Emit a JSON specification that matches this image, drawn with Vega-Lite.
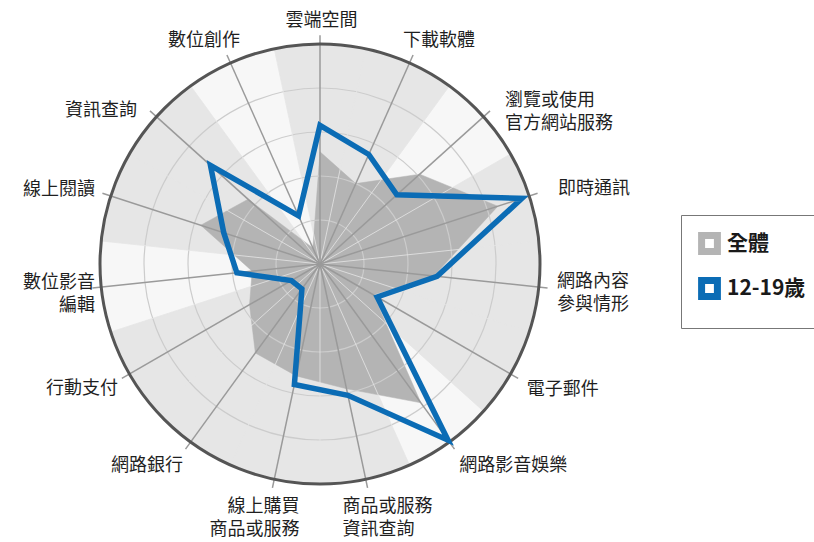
{
  "$schema": "https://vega.github.io/schema/vega-lite/v6.json",
  "width": 814,
  "height": 542,
  "autosize": {"type": "none"},
  "padding": 0,
  "background": "white",
  "config": {"font": "Noto Sans CJK TC", "view": {"stroke": null}},
  "datasets": {
    "radar": [
      {"cat": "雲端空間", "series": "全體", "value": 51},
      {"cat": "下載軟體", "series": "全體", "value": 40},
      {"cat": "瀏覽或使用\n官方網站服務", "series": "全體", "value": 61},
      {"cat": "即時通訊", "series": "全體", "value": 85},
      {"cat": "網路內容\n參與情形", "series": "全體", "value": 52},
      {"cat": "電子郵件", "series": "全體", "value": 28},
      {"cat": "網路影音娛樂", "series": "全體", "value": 78},
      {"cat": "商品或服務\n資訊查詢", "series": "全體", "value": 58},
      {"cat": "線上購買\n商品或服務", "series": "全體", "value": 52},
      {"cat": "網路銀行", "series": "全體", "value": 50},
      {"cat": "行動支付", "series": "全體", "value": 37},
      {"cat": "數位影音\n編輯", "series": "全體", "value": 31},
      {"cat": "線上閱讀", "series": "全體", "value": 57},
      {"cat": "資訊查詢", "series": "全體", "value": 44},
      {"cat": "數位創作", "series": "全體", "value": 8},
      {"cat": "雲端空間", "series": "12-19歲", "value": 63},
      {"cat": "下載軟體", "series": "12-19歲", "value": 54.5},
      {"cat": "瀏覽或使用\n官方網站服務", "series": "12-19歲", "value": 47},
      {"cat": "即時通訊", "series": "12-19歲", "value": 96.5},
      {"cat": "網路內容\n參與情形", "series": "12-19歲", "value": 53.5},
      {"cat": "電子郵件", "series": "12-19歲", "value": 30},
      {"cat": "網路影音娛樂", "series": "12-19歲", "value": 99},
      {"cat": "商品或服務\n資訊查詢", "series": "12-19歲", "value": 61},
      {"cat": "線上購買\n商品或服務", "series": "12-19歲", "value": 56},
      {"cat": "網路銀行", "series": "12-19歲", "value": 14},
      {"cat": "行動支付", "series": "12-19歲", "value": 15},
      {"cat": "數位影音\n編輯", "series": "12-19歲", "value": 38},
      {"cat": "線上閱讀", "series": "12-19歲", "value": 46},
      {"cat": "資訊查詢", "series": "12-19歲", "value": 67},
      {"cat": "數位創作", "series": "12-19歲", "value": 24}
    ],
    "cats": [
      {"cat": "雲端空間", "sector": "A"},
      {"cat": "下載軟體", "sector": "A"},
      {"cat": "瀏覽或使用\n官方網站服務", "sector": "B"},
      {"cat": "即時通訊", "sector": "A"},
      {"cat": "網路內容\n參與情形", "sector": "A"},
      {"cat": "電子郵件", "sector": "A"},
      {"cat": "網路影音娛樂", "sector": "B"},
      {"cat": "商品或服務\n資訊查詢", "sector": "A"},
      {"cat": "線上購買\n商品或服務", "sector": "A"},
      {"cat": "網路銀行", "sector": "A"},
      {"cat": "行動支付", "sector": "A"},
      {"cat": "數位影音\n編輯", "sector": "B"},
      {"cat": "線上閱讀", "sector": "A"},
      {"cat": "資訊查詢", "sector": "A"},
      {"cat": "數位創作", "sector": "B"}
    ],
    "rings": [{"tick": 20}, {"tick": 40}, {"tick": 60}, {"tick": 80}],
    "outer": [{"tick": 100}]
  },
  "layer": [
    {
      "data": {"name": "outer"},
      "transform": [{"calculate": "0", "as": "zero"}],
      "mark": {"type": "point", "shape": "circle", "filled": true, "fill": "#e6e6e6", "strokeWidth": 0, "opacity": 1},
      "encoding": {
        "x": {"field": "zero", "type": "quantitative", "scale": {"domain": [-145.4545, 224.5455], "nice": false, "zero": false}, "axis": null},
        "y": {"field": "zero", "type": "quantitative", "scale": {"domain": [-126.3636, 120], "nice": false, "zero": false}, "axis": null},
        "size": {"field": "tick", "type": "quantitative", "scale": {"type": "pow", "exponent": 2, "domain": [0, 100], "range": [0, 193600], "zero": true}, "legend": null}
      }
    },
    {
      "data": {"name": "cats"},
      "transform": [
        {"window": [{"op": "row_number", "as": "rn"}]},
        {"calculate": "(datum.rn - 1) * 24", "as": "deg"},
        {"calculate": "0", "as": "zero"},
        {"filter": "datum.sector === 'B'"}
      ],
      "mark": {"type": "point", "shape": "M0,0L-0.20791,-0.97815A1,1,0,0,1,0.20791,-0.97815Z", "filled": true, "fill": "#f7f7f7", "strokeWidth": 0, "size": 193600, "opacity": 1},
      "encoding": {
        "x": {"field": "zero", "type": "quantitative"},
        "y": {"field": "zero", "type": "quantitative"},
        "angle": {"field": "deg", "type": "quantitative", "scale": null}
      }
    },
    {
      "data": {"name": "radar"},
      "transform": [
        {"window": [{"op": "row_number", "as": "rn"}], "groupby": ["series"]},
        {"filter": "datum.series === '全體'"},
        {"calculate": "(datum.rn - 1) * 2 * PI / 15", "as": "ang"},
        {"calculate": "datum.value * sin(datum.ang)", "as": "px"},
        {"calculate": "datum.value * cos(datum.ang)", "as": "py"}
      ],
      "mark": {"type": "line", "interpolate": "linear-closed", "fill": "#b4b4b4", "stroke": "#b4b4b4", "strokeWidth": 0.5},
      "encoding": {
        "x": {"field": "px", "type": "quantitative"},
        "y": {"field": "py", "type": "quantitative"},
        "order": {"field": "rn", "type": "quantitative"}
      }
    },
    {
      "data": {"name": "rings"},
      "transform": [{"calculate": "0", "as": "zero"}],
      "mark": {"type": "point", "shape": "circle", "filled": false, "stroke": "#cccccc", "strokeWidth": 1.2, "opacity": 1},
      "encoding": {
        "x": {"field": "zero", "type": "quantitative"},
        "y": {"field": "zero", "type": "quantitative"},
        "size": {"field": "tick", "type": "quantitative", "legend": null}
      }
    },
    {
      "data": {"name": "cats"},
      "transform": [
        {"window": [{"op": "row_number", "as": "rn"}]},
        {"calculate": "(datum.rn - 0.5) * 2 * PI / 15", "as": "ang"},
        {"calculate": "100 * sin(datum.ang)", "as": "ex"},
        {"calculate": "100 * cos(datum.ang)", "as": "ey"},
        {"calculate": "0", "as": "zero"}
      ],
      "mark": {"type": "rule", "stroke": "#e6e6e6", "strokeWidth": 0.8},
      "encoding": {
        "x": {"field": "zero", "type": "quantitative"},
        "y": {"field": "zero", "type": "quantitative"},
        "x2": {"field": "ex"},
        "y2": {"field": "ey"}
      }
    },
    {
      "data": {"name": "cats"},
      "transform": [
        {"window": [{"op": "row_number", "as": "rn"}]},
        {"calculate": "(datum.rn - 1) * 2 * PI / 15", "as": "ang"},
        {"calculate": "104 * sin(datum.ang)", "as": "ex"},
        {"calculate": "104 * cos(datum.ang)", "as": "ey"},
        {"calculate": "0", "as": "zero"}
      ],
      "mark": {"type": "rule", "stroke": "#9a9a9a", "strokeWidth": 1.5},
      "encoding": {
        "x": {"field": "zero", "type": "quantitative"},
        "y": {"field": "zero", "type": "quantitative"},
        "x2": {"field": "ex"},
        "y2": {"field": "ey"}
      }
    },
    {
      "data": {"name": "outer"},
      "transform": [{"calculate": "0", "as": "zero"}],
      "mark": {"type": "point", "shape": "circle", "filled": false, "stroke": "#555555", "strokeWidth": 3, "opacity": 1},
      "encoding": {
        "x": {"field": "zero", "type": "quantitative"},
        "y": {"field": "zero", "type": "quantitative"},
        "size": {"field": "tick", "type": "quantitative", "legend": null}
      }
    },
    {
      "data": {"name": "radar"},
      "transform": [
        {"window": [{"op": "row_number", "as": "rn"}], "groupby": ["series"]},
        {"filter": "datum.series === '12-19歲'"},
        {"calculate": "(datum.rn - 1) * 2 * PI / 15", "as": "ang"},
        {"calculate": "datum.value * sin(datum.ang)", "as": "px"},
        {"calculate": "datum.value * cos(datum.ang)", "as": "py"}
      ],
      "mark": {"type": "line", "interpolate": "linear-closed", "strokeWidth": 5.5, "strokeJoin": "miter"},
      "encoding": {
        "x": {"field": "px", "type": "quantitative"},
        "y": {"field": "py", "type": "quantitative"},
        "order": {"field": "rn", "type": "quantitative"},
        "color": {
          "field": "series",
          "type": "nominal",
          "scale": {"domain": ["全體", "12-19歲"], "range": ["#b4b4b4", "#0b6cb5"]},
          "legend": {
            "orient": "none",
            "legendX": 681,
            "legendY": 215,
            "title": null,
            "padding": 17,
            "strokeColor": "#777777",
            "symbolType": "square",
            "symbolSize": 250,
            "symbolStrokeWidth": 7,
            "symbolFillColor": "#ffffff",
            "symbolOpacity": 1,
            "labelFont": "Noto Sans CJK TC",
            "labelFontSize": 21,
            "labelFontWeight": "bold",
            "labelColor": "#1a1a1a",
            "labelOffset": 6,
            "rowPadding": 0
          }
        }
      }
    },
    {
      "data": {"name": "cats"},
      "transform": [{"window": [{"op": "row_number", "as": "rn"}]}, {"filter": "datum.rn == 1"}, {"calculate": "(datum.rn - 1) * 2 * PI / 15", "as": "ang"}, {"calculate": "104 * sin(datum.ang)", "as": "lx"}, {"calculate": "104 * cos(datum.ang)", "as": "ly"}],
      "mark": {"type": "text", "align": "center", "baseline": "middle", "dx": 1.5, "dy": -13.8, "fontSize": 18, "lineHeight": 23, "lineBreak": "\n", "color": "#1f1f1f"},
      "encoding": {"x": {"field": "lx", "type": "quantitative"}, "y": {"field": "ly", "type": "quantitative"}, "text": {"field": "cat", "type": "nominal"}}
    },
    {
      "data": {"name": "cats"},
      "transform": [{"window": [{"op": "row_number", "as": "rn"}]}, {"filter": "datum.rn == 2"}, {"calculate": "(datum.rn - 1) * 2 * PI / 15", "as": "ang"}, {"calculate": "104 * sin(datum.ang)", "as": "lx"}, {"calculate": "104 * cos(datum.ang)", "as": "ly"}],
      "mark": {"type": "text", "align": "left", "baseline": "middle", "dx": -10, "dy": -13.6, "fontSize": 18, "lineHeight": 23, "lineBreak": "\n", "color": "#1f1f1f"},
      "encoding": {"x": {"field": "lx", "type": "quantitative"}, "y": {"field": "ly", "type": "quantitative"}, "text": {"field": "cat", "type": "nominal"}}
    },
    {
      "data": {"name": "cats"},
      "transform": [{"window": [{"op": "row_number", "as": "rn"}]}, {"filter": "datum.rn == 3"}, {"calculate": "(datum.rn - 1) * 2 * PI / 15", "as": "ang"}, {"calculate": "104 * sin(datum.ang)", "as": "lx"}, {"calculate": "104 * cos(datum.ang)", "as": "ly"}],
      "mark": {"type": "text", "align": "left", "baseline": "middle", "dx": 15, "dy": -9.5, "fontSize": 18, "lineHeight": 23, "lineBreak": "\n", "color": "#1f1f1f"},
      "encoding": {"x": {"field": "lx", "type": "quantitative"}, "y": {"field": "ly", "type": "quantitative"}, "text": {"field": "cat", "type": "nominal"}}
    },
    {
      "data": {"name": "cats"},
      "transform": [{"window": [{"op": "row_number", "as": "rn"}]}, {"filter": "datum.rn == 4"}, {"calculate": "(datum.rn - 1) * 2 * PI / 15", "as": "ang"}, {"calculate": "104 * sin(datum.ang)", "as": "lx"}, {"calculate": "104 * cos(datum.ang)", "as": "ly"}],
      "mark": {"type": "text", "align": "left", "baseline": "middle", "dx": 20.4, "dy": -3.9, "fontSize": 18, "lineHeight": 23, "lineBreak": "\n", "color": "#1f1f1f"},
      "encoding": {"x": {"field": "lx", "type": "quantitative"}, "y": {"field": "ly", "type": "quantitative"}, "text": {"field": "cat", "type": "nominal"}}
    },
    {
      "data": {"name": "cats"},
      "transform": [{"window": [{"op": "row_number", "as": "rn"}]}, {"filter": "datum.rn == 5"}, {"calculate": "(datum.rn - 1) * 2 * PI / 15", "as": "ang"}, {"calculate": "104 * sin(datum.ang)", "as": "lx"}, {"calculate": "104 * cos(datum.ang)", "as": "ly"}],
      "mark": {"type": "text", "align": "left", "baseline": "middle", "dx": 9.5, "dy": -5.5, "fontSize": 18, "lineHeight": 23, "lineBreak": "\n", "color": "#1f1f1f"},
      "encoding": {"x": {"field": "lx", "type": "quantitative"}, "y": {"field": "ly", "type": "quantitative"}, "text": {"field": "cat", "type": "nominal"}}
    },
    {
      "data": {"name": "cats"},
      "transform": [{"window": [{"op": "row_number", "as": "rn"}]}, {"filter": "datum.rn == 6"}, {"calculate": "(datum.rn - 1) * 2 * PI / 15", "as": "ang"}, {"calculate": "104 * sin(datum.ang)", "as": "lx"}, {"calculate": "104 * cos(datum.ang)", "as": "ly"}],
      "mark": {"type": "text", "align": "left", "baseline": "middle", "dx": 8.6, "dy": 11.5, "fontSize": 18, "lineHeight": 23, "lineBreak": "\n", "color": "#1f1f1f"},
      "encoding": {"x": {"field": "lx", "type": "quantitative"}, "y": {"field": "ly", "type": "quantitative"}, "text": {"field": "cat", "type": "nominal"}}
    },
    {
      "data": {"name": "cats"},
      "transform": [{"window": [{"op": "row_number", "as": "rn"}]}, {"filter": "datum.rn == 7"}, {"calculate": "(datum.rn - 1) * 2 * PI / 15", "as": "ang"}, {"calculate": "104 * sin(datum.ang)", "as": "lx"}, {"calculate": "104 * cos(datum.ang)", "as": "ly"}],
      "mark": {"type": "text", "align": "left", "baseline": "middle", "dx": 4.8, "dy": 16.8, "fontSize": 18, "lineHeight": 23, "lineBreak": "\n", "color": "#1f1f1f"},
      "encoding": {"x": {"field": "lx", "type": "quantitative"}, "y": {"field": "ly", "type": "quantitative"}, "text": {"field": "cat", "type": "nominal"}}
    },
    {
      "data": {"name": "cats"},
      "transform": [{"window": [{"op": "row_number", "as": "rn"}]}, {"filter": "datum.rn == 8"}, {"calculate": "(datum.rn - 1) * 2 * PI / 15", "as": "ang"}, {"calculate": "104 * sin(datum.ang)", "as": "lx"}, {"calculate": "104 * cos(datum.ang)", "as": "ly"}],
      "mark": {"type": "text", "align": "left", "baseline": "middle", "dx": -25, "dy": 19.1, "fontSize": 18, "lineHeight": 23, "lineBreak": "\n", "color": "#1f1f1f"},
      "encoding": {"x": {"field": "lx", "type": "quantitative"}, "y": {"field": "ly", "type": "quantitative"}, "text": {"field": "cat", "type": "nominal"}}
    },
    {
      "data": {"name": "cats"},
      "transform": [{"window": [{"op": "row_number", "as": "rn"}]}, {"filter": "datum.rn == 9"}, {"calculate": "(datum.rn - 1) * 2 * PI / 15", "as": "ang"}, {"calculate": "104 * sin(datum.ang)", "as": "lx"}, {"calculate": "104 * cos(datum.ang)", "as": "ly"}],
      "mark": {"type": "text", "align": "right", "baseline": "middle", "dx": 27, "dy": 19.1, "fontSize": 18, "lineHeight": 23, "lineBreak": "\n", "color": "#1f1f1f"},
      "encoding": {"x": {"field": "lx", "type": "quantitative"}, "y": {"field": "ly", "type": "quantitative"}, "text": {"field": "cat", "type": "nominal"}}
    },
    {
      "data": {"name": "cats"},
      "transform": [{"window": [{"op": "row_number", "as": "rn"}]}, {"filter": "datum.rn == 10"}, {"calculate": "(datum.rn - 1) * 2 * PI / 15", "as": "ang"}, {"calculate": "104 * sin(datum.ang)", "as": "lx"}, {"calculate": "104 * cos(datum.ang)", "as": "ly"}],
      "mark": {"type": "text", "align": "right", "baseline": "middle", "dx": -2.5, "dy": 17.3, "fontSize": 18, "lineHeight": 23, "lineBreak": "\n", "color": "#1f1f1f"},
      "encoding": {"x": {"field": "lx", "type": "quantitative"}, "y": {"field": "ly", "type": "quantitative"}, "text": {"field": "cat", "type": "nominal"}}
    },
    {
      "data": {"name": "cats"},
      "transform": [{"window": [{"op": "row_number", "as": "rn"}]}, {"filter": "datum.rn == 11"}, {"calculate": "(datum.rn - 1) * 2 * PI / 15", "as": "ang"}, {"calculate": "104 * sin(datum.ang)", "as": "lx"}, {"calculate": "104 * cos(datum.ang)", "as": "ly"}],
      "mark": {"type": "text", "align": "right", "baseline": "middle", "dx": -3.9, "dy": 11, "fontSize": 18, "lineHeight": 23, "lineBreak": "\n", "color": "#1f1f1f"},
      "encoding": {"x": {"field": "lx", "type": "quantitative"}, "y": {"field": "ly", "type": "quantitative"}, "text": {"field": "cat", "type": "nominal"}}
    },
    {
      "data": {"name": "cats"},
      "transform": [{"window": [{"op": "row_number", "as": "rn"}]}, {"filter": "datum.rn == 12"}, {"calculate": "(datum.rn - 1) * 2 * PI / 15", "as": "ang"}, {"calculate": "104 * sin(datum.ang)", "as": "lx"}, {"calculate": "104 * cos(datum.ang)", "as": "ly"}],
      "mark": {"type": "text", "align": "right", "baseline": "middle", "dx": 2.5, "dy": -5, "fontSize": 18, "lineHeight": 23, "lineBreak": "\n", "color": "#1f1f1f"},
      "encoding": {"x": {"field": "lx", "type": "quantitative"}, "y": {"field": "ly", "type": "quantitative"}, "text": {"field": "cat", "type": "nominal"}}
    },
    {
      "data": {"name": "cats"},
      "transform": [{"window": [{"op": "row_number", "as": "rn"}]}, {"filter": "datum.rn == 13"}, {"calculate": "(datum.rn - 1) * 2 * PI / 15", "as": "ang"}, {"calculate": "104 * sin(datum.ang)", "as": "lx"}, {"calculate": "104 * cos(datum.ang)", "as": "ly"}],
      "mark": {"type": "text", "align": "right", "baseline": "middle", "dx": -7.4, "dy": -3.4, "fontSize": 18, "lineHeight": 23, "lineBreak": "\n", "color": "#1f1f1f"},
      "encoding": {"x": {"field": "lx", "type": "quantitative"}, "y": {"field": "ly", "type": "quantitative"}, "text": {"field": "cat", "type": "nominal"}}
    },
    {
      "data": {"name": "cats"},
      "transform": [{"window": [{"op": "row_number", "as": "rn"}]}, {"filter": "datum.rn == 14"}, {"calculate": "(datum.rn - 1) * 2 * PI / 15", "as": "ang"}, {"calculate": "104 * sin(datum.ang)", "as": "lx"}, {"calculate": "104 * cos(datum.ang)", "as": "ly"}],
      "mark": {"type": "text", "align": "right", "baseline": "middle", "dx": -13, "dy": 0.5, "fontSize": 18, "lineHeight": 23, "lineBreak": "\n", "color": "#1f1f1f"},
      "encoding": {"x": {"field": "lx", "type": "quantitative"}, "y": {"field": "ly", "type": "quantitative"}, "text": {"field": "cat", "type": "nominal"}}
    },
    {
      "data": {"name": "cats"},
      "transform": [{"window": [{"op": "row_number", "as": "rn"}]}, {"filter": "datum.rn == 15"}, {"calculate": "(datum.rn - 1) * 2 * PI / 15", "as": "ang"}, {"calculate": "104 * sin(datum.ang)", "as": "lx"}, {"calculate": "104 * cos(datum.ang)", "as": "ly"}],
      "mark": {"type": "text", "align": "right", "baseline": "middle", "dx": 13, "dy": -13.6, "fontSize": 18, "lineHeight": 23, "lineBreak": "\n", "color": "#1f1f1f"},
      "encoding": {"x": {"field": "lx", "type": "quantitative"}, "y": {"field": "ly", "type": "quantitative"}, "text": {"field": "cat", "type": "nominal"}}
    }
  ]
}
